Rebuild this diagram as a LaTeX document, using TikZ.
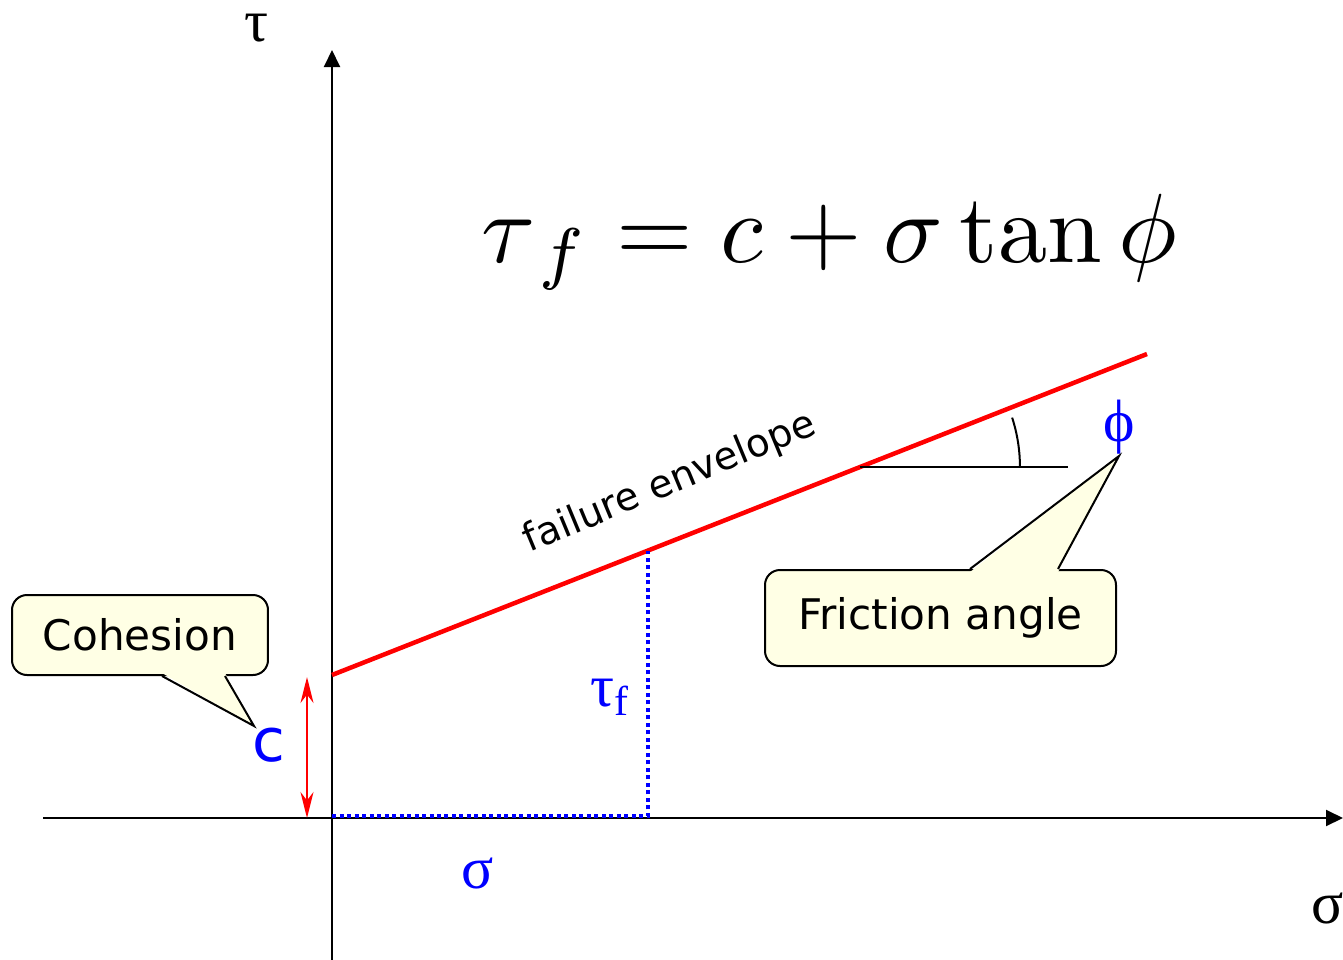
\documentclass[tikz,border=0pt]{standalone}
\usepackage[no-math]{fontspec}
\setmainfont{DejaVu Sans}
\newfontfamily\gregofont{Liberation Serif}
\usetikzlibrary{arrows.meta, positioning, calc}

\begin{document}
\begin{tikzpicture}[x=0.1mm, y=-0.1mm,
  eixo/.style={line width=0.2mm, -{Triangle[length=1.7mm, width=1.6mm]}},
  envoltoria/.style={red, line width=0.45mm},
  pontilhado/.style={blue, line width=0.4mm, dash pattern=on 0.4mm off 0.35mm},
  balao/.style={draw=black, line width=0.2mm, fill=balaofundo, rounded corners=1.5mm, inner sep=0pt, font=\fontsize{12}{14}\selectfont},
  grego/.style={text=blue, inner sep=0pt, font=\gregofont\fontsize{17}{19}\selectfont}]
% --- EIXOS, ENVOLTORIA E BALOES ---
\definecolor{balaofundo}{HTML}{FFFFE5}
\useasboundingbox (0,0) rectangle (1343,960);

% LAYER 1: Eixos
\coordinate (O) at (332,818);
\coordinate (Ytopo) at (332,50);
\coordinate (Ybase) at (332,960);
\coordinate (Xesq) at (43,818);
\coordinate (Xdir) at (1343,818);
\draw[eixo] (Ybase) -- (Ytopo);
\draw[eixo] (Xesq) -- (Xdir);
\node[grego, text=black] (tau) at (257,28) {τ};
\node[grego, text=black] (sigmaeixo) at (1328,908) {σ};

% LAYER 2: Envoltoria de ruptura
\coordinate (C) at (332,675);
\coordinate (E) at (1147,354);
\draw[envoltoria] (C) -- (E);
\node[rotate=22.5, inner sep=0pt, font=\fontsize{11}{13}\selectfont] (rotenv) at (670,483) {failure envelope};

% LAYER 3: Tensoes no ponto
\coordinate (P) at ($(C)!0.3877!(E)$);
\coordinate (O2) at ($(O)+(0,-2)$);
\draw[pontilhado] (O2) -- (P |- O2) -- (P);
\node[grego] (tauf) at (610,697) {τ\textsubscript{f}};
\node[grego] (sigma) at (478,873) {σ};

% LAYER 4: Coesao
\coordinate (Cesq) at ($(C)+(-25,2)$);
\coordinate (Oesq) at ($(O)+(-25,0)$);
\draw[red, line width=0.2mm, {Stealth[length=2.6mm, width=1.3mm]}-{Stealth[length=2.6mm, width=1.3mm]}] (Oesq) -- (Cesq);
\node[text=blue, inner sep=0pt, font=\fontsize{17}{19}\selectfont] (c) at (269,745) {c};
\node[balao, minimum width=25.6mm, minimum height=8mm] (coesao) at (140,635) {Cohesion};
\coordinate (pontaC) at (254,726);
\fill[balaofundo] ($(coesao.south)+(22,-3)$) -- (pontaC) -- ($(coesao.south)+(85,-3)$) -- cycle;
\draw[line width=0.2mm] ($(coesao.south)+(22,0)$) -- (pontaC) -- ($(coesao.south)+(85,0)$);

% LAYER 5: Angulo de atrito
\coordinate (A) at ($(C)!0.6478!(E)$);
\coordinate (Adir) at (1068,467);
\draw[line width=0.2mm] (A) -- (A -| Adir);
\draw[line width=0.2mm] (A) ++(160,0) arc[start angle=0, end angle=-18, radius=160];
\node[grego] (phi) at (1119,427) {ϕ};
\node[balao, minimum width=35.1mm, minimum height=9.6mm] (atrito) at (940.5,618) {Friction angle};
\coordinate (pontaF) at (1119,456);
\fill[balaofundo] ($(atrito.north)+(29.5,3)$) -- (pontaF) -- ($(atrito.north)+(117.5,3)$) -- cycle;
\draw[line width=0.2mm] ($(atrito.north)+(29.5,0)$) -- (pontaF) -- ($(atrito.north)+(117.5,0)$);

% LAYER 6: Criterio de Mohr-Coulomb
\node[scale=2.8, inner sep=0pt, anchor=base west] (lei) at (480,262) {$\tau_{\,f} = c + \sigma\tan\phi$};
\end{tikzpicture}
\end{document}
